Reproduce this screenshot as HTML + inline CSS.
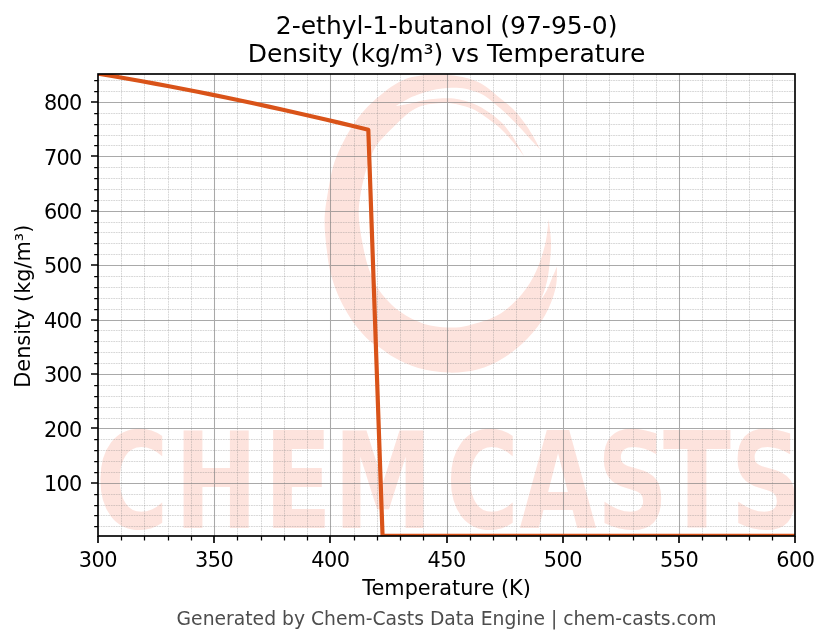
<!DOCTYPE html>
<html lang="en"><head><meta charset="utf-8"><title>2-ethyl-1-butanol (97-95-0) Density vs Temperature</title>
<style>
html,body{margin:0;padding:0;background:#fff;}
body{width:830px;height:644px;overflow:hidden;}
svg{display:block;will-change:transform;transform:translateZ(0);}
svg text{font-family:"DejaVu Sans", "Liberation Sans", sans-serif;}
</style></head><body>
<svg width="830" height="644" viewBox="0 0 830 644" font-family='"DejaVu Sans", "Liberation Sans", sans-serif'>
<rect width="830" height="644" fill="#fff"/>
<defs><clipPath id="ax"><rect x="98.0" y="74.0" width="697.0" height="462.0"/></clipPath></defs>
<g clip-path="url(#ax)" fill="#fde3dd">
<path d="M540.2 149.5C539.0 147.2 535.6 140.4 533.0 136.0C530.4 131.6 527.9 127.5 524.6 123.0C521.3 118.5 517.0 113.1 513.0 109.0C509.0 104.9 505.2 102.3 500.5 98.5C495.8 94.7 489.8 89.2 485.0 86.0C480.2 82.8 475.9 81.2 471.7 79.6C467.5 78.0 463.7 77.3 459.7 76.6C455.7 75.8 452.1 75.4 447.7 75.1C443.3 74.8 437.6 74.8 433.2 74.8C428.8 74.8 425.1 74.9 421.1 75.4C417.1 75.9 413.1 76.5 409.1 77.8C405.1 79.1 401.0 81.0 397.0 83.3C393.0 85.6 389.9 87.6 385.0 91.5C380.1 95.4 373.2 100.9 367.8 106.6C362.4 112.3 356.9 119.2 352.4 125.9C347.9 132.7 344.0 140.3 340.8 147.1C337.6 153.8 335.2 159.2 333.1 166.4C331.0 173.6 329.6 182.7 328.3 190.0C327.0 197.3 325.8 204.5 325.2 210.0C324.6 215.5 324.6 218.7 324.6 223.0C324.6 227.3 324.9 231.5 325.3 236.0C325.7 240.5 326.1 244.6 326.8 250.0C327.5 255.4 328.1 262.0 329.6 268.7C331.1 275.4 333.5 283.4 336.0 290.0C338.5 296.6 341.4 302.4 344.7 308.4C348.0 314.4 351.9 320.6 356.0 326.0C360.1 331.4 365.5 337.1 369.5 340.7C373.5 344.3 375.8 344.8 380.0 347.7C384.2 350.6 388.3 354.4 394.7 357.8C401.1 361.2 409.4 365.6 418.3 368.1C427.2 370.6 438.0 372.4 447.8 372.6C457.6 372.9 468.0 372.1 477.3 369.6C486.6 367.1 495.5 363.0 503.9 357.8C512.3 352.6 520.6 345.7 527.5 338.6C534.4 331.5 540.5 323.4 545.2 315.0C549.9 306.6 553.5 296.6 555.5 288.5C557.5 280.4 556.8 270.1 557.0 266.4C556.2 268.2 554.2 273.1 552.5 277.0C550.8 280.9 549.0 286.1 547.0 290.0C545.0 293.9 541.8 298.6 540.8 300.3C541.6 298.1 544.2 291.7 545.5 287.0C546.8 282.3 547.7 279.1 548.6 272.0C549.5 264.9 551.1 253.0 551.1 244.2C551.1 235.4 549.1 223.4 548.7 219.2C548.1 223.4 547.3 235.6 545.2 244.2C543.1 252.8 540.2 262.4 536.3 270.8C532.4 279.2 528.0 287.0 521.6 294.4C515.2 301.8 506.9 309.8 498.0 315.0C489.1 320.2 476.9 323.3 468.5 325.4C460.1 327.5 455.2 327.6 447.8 327.4C440.4 327.1 432.1 326.4 424.2 323.9C416.3 321.3 408.0 317.5 400.6 312.1C393.2 306.7 385.3 298.6 380.0 291.4C374.7 284.2 371.7 276.6 368.8 268.7C365.9 260.8 364.3 252.6 362.6 243.8C360.9 235.0 359.1 224.4 358.8 216.0C358.5 207.6 359.3 201.7 360.7 193.4C362.1 185.1 364.7 174.1 367.2 166.4C369.7 158.7 372.5 152.2 375.5 147.1C378.5 141.9 381.4 139.4 385.0 135.5C388.6 131.6 393.0 127.3 397.0 123.5C401.0 119.7 405.1 115.4 409.1 112.5C413.1 109.6 417.1 107.6 421.1 106.1C425.1 104.6 428.8 104.2 433.2 103.7C437.6 103.2 443.3 102.9 447.7 103.1C452.1 103.3 455.7 104.0 459.7 104.9C463.7 105.8 467.5 106.7 471.7 108.6C475.9 110.5 480.2 113.1 485.0 116.4C489.8 119.7 495.8 124.2 500.5 128.5C505.2 132.8 509.0 137.2 513.0 142.0C517.0 146.8 522.7 154.5 524.6 157.0C522.7 153.7 517.0 142.9 513.0 137.0C509.0 131.1 505.2 126.0 500.5 121.5C495.8 117.0 489.8 112.9 485.0 109.8C480.2 106.7 475.9 104.8 471.7 103.1C467.5 101.4 463.7 100.3 459.7 99.5C455.7 98.7 452.1 98.4 447.7 98.3C443.3 98.2 437.6 98.5 433.2 98.9C428.8 99.3 425.1 99.9 421.1 100.7C417.1 101.5 413.3 102.8 409.1 103.7C404.9 104.6 398.0 105.7 395.8 106.1C398.0 104.8 404.9 100.4 409.1 98.3C413.3 96.2 417.1 94.9 421.1 93.5C425.1 92.1 428.8 90.8 433.2 89.9C437.6 89.0 443.3 88.4 447.7 88.1C452.1 87.8 455.7 87.7 459.7 88.1C463.7 88.5 467.5 89.2 471.7 90.5C475.9 91.8 480.2 92.9 485.0 95.9C489.8 98.9 495.8 104.5 500.5 108.6C505.2 112.7 509.0 116.5 513.0 120.5C517.0 124.5 521.3 129.1 524.6 132.7C527.9 136.3 530.4 139.2 533.0 142.0C535.6 144.8 539.0 148.2 540.2 149.5Z"/>
<text transform="scale(0.7404 1)" x="129.0 235.8 356.6 450.5 602.4 701.5 806.0 895.5 986.6" y="528.0" font-size="134.4px" font-weight="bold">CHEMCASTS</text>
</g>
<path d="M121.5 74.0V536.0M144.5 74.0V536.0M168.5 74.0V536.0M191.5 74.0V536.0M237.5 74.0V536.0M261.5 74.0V536.0M284.5 74.0V536.0M307.5 74.0V536.0M354.5 74.0V536.0M377.5 74.0V536.0M400.5 74.0V536.0M423.5 74.0V536.0M470.5 74.0V536.0M493.5 74.0V536.0M516.5 74.0V536.0M540.5 74.0V536.0M586.5 74.0V536.0M609.5 74.0V536.0M633.5 74.0V536.0M656.5 74.0V536.0M702.5 74.0V536.0M726.5 74.0V536.0M749.5 74.0V536.0M772.5 74.0V536.0M98.0 526.5H795.0M98.0 515.5H795.0M98.0 505.5H795.0M98.0 494.5H795.0M98.0 472.5H795.0M98.0 461.5H795.0M98.0 450.5H795.0M98.0 439.5H795.0M98.0 418.5H795.0M98.0 407.5H795.0M98.0 396.5H795.0M98.0 385.5H795.0M98.0 363.5H795.0M98.0 352.5H795.0M98.0 341.5H795.0M98.0 330.5H795.0M98.0 309.5H795.0M98.0 298.5H795.0M98.0 287.5H795.0M98.0 276.5H795.0M98.0 254.5H795.0M98.0 243.5H795.0M98.0 232.5H795.0M98.0 222.5H795.0M98.0 200.5H795.0M98.0 189.5H795.0M98.0 178.5H795.0M98.0 167.5H795.0M98.0 145.5H795.0M98.0 135.5H795.0M98.0 124.5H795.0M98.0 113.5H795.0M98.0 91.5H795.0M98.0 80.5H795.0" fill="none" stroke="#808080" stroke-opacity="0.31" stroke-width="1.0" stroke-dasharray="1.8 0.75"/>
<path d="M214.5 74.0V536.0M330.5 74.0V536.0M447.5 74.0V536.0M563.5 74.0V536.0M679.5 74.0V536.0M98.0 483.5H795.0M98.0 428.5H795.0M98.0 374.5H795.0M98.0 320.5H795.0M98.0 265.5H795.0M98.0 211.5H795.0M98.0 156.5H795.0M98.0 102.5H795.0" fill="none" stroke="#808080" stroke-opacity="0.68" stroke-width="1.04"/>
<path d="M97.86 73.57L112.09 76.00L126.33 78.49L140.56 81.04L154.80 83.64L169.03 86.30L183.27 89.03L197.50 91.81L211.74 94.65L225.97 97.55L240.20 100.51L254.44 103.53L268.67 106.60L282.91 109.74L297.14 112.93L311.38 116.19L325.61 119.50L339.84 122.87L354.08 126.30L368.31 129.79L382.55 535.72L396.78 535.72L411.02 535.73L425.25 535.73L439.49 535.74L453.72 535.74L467.95 535.75L482.19 535.75L496.42 535.75L510.66 535.76L524.89 535.76L539.13 535.77L553.36 535.77L567.59 535.77L581.83 535.78L596.06 535.78L610.30 535.79L624.53 535.79L638.77 535.79L653.00 535.80L667.24 535.80L681.47 535.81L695.70 535.81L709.94 535.82L724.17 535.82L738.41 535.82L752.64 535.83L766.88 535.83L781.11 535.84L795.34 535.84" clip-path="url(#ax)" fill="none" stroke="#d95319" stroke-width="4.17" stroke-linejoin="round" stroke-linecap="square"/>
<path d="M121.5 536.0v4.5M144.5 536.0v4.5M168.5 536.0v4.5M191.5 536.0v4.5M237.5 536.0v4.5M261.5 536.0v4.5M284.5 536.0v4.5M307.5 536.0v4.5M354.5 536.0v4.5M377.5 536.0v4.5M400.5 536.0v4.5M423.5 536.0v4.5M470.5 536.0v4.5M493.5 536.0v4.5M516.5 536.0v4.5M540.5 536.0v4.5M586.5 536.0v4.5M609.5 536.0v4.5M633.5 536.0v4.5M656.5 536.0v4.5M702.5 536.0v4.5M726.5 536.0v4.5M749.5 536.0v4.5M772.5 536.0v4.5M98.0 526.5h-3.8M98.0 515.5h-3.8M98.0 505.5h-3.8M98.0 494.5h-3.8M98.0 472.5h-3.8M98.0 461.5h-3.8M98.0 450.5h-3.8M98.0 439.5h-3.8M98.0 418.5h-3.8M98.0 407.5h-3.8M98.0 396.5h-3.8M98.0 385.5h-3.8M98.0 363.5h-3.8M98.0 352.5h-3.8M98.0 341.5h-3.8M98.0 330.5h-3.8M98.0 309.5h-3.8M98.0 298.5h-3.8M98.0 287.5h-3.8M98.0 276.5h-3.8M98.0 254.5h-3.8M98.0 243.5h-3.8M98.0 232.5h-3.8M98.0 222.5h-3.8M98.0 200.5h-3.8M98.0 189.5h-3.8M98.0 178.5h-3.8M98.0 167.5h-3.8M98.0 145.5h-3.8M98.0 135.5h-3.8M98.0 124.5h-3.8M98.0 113.5h-3.8M98.0 91.5h-3.8M98.0 80.5h-3.8" fill="none" stroke="#000" stroke-width="1.25"/>
<path d="M98 536.0v7.0M214 536.0v7.0M330 536.0v7.0M447 536.0v7.0M563 536.0v7.0M679 536.0v7.0M795 536.0v7.0M98.0 483h-7.0M98.0 428h-7.0M98.0 374h-7.0M98.0 320h-7.0M98.0 265h-7.0M98.0 211h-7.0M98.0 156h-7.0M98.0 102h-7.0" fill="none" stroke="#000" stroke-width="1.67"/>
<rect x="98.0" y="74.0" width="697.0" height="462.0" fill="none" stroke="#000" stroke-width="1.67"/>
<g fill="#000" font-size="20.83px" text-anchor="middle" letter-spacing="-0.55">
<text x="97.86" y="567">300</text>
<text x="214.11" y="567">350</text>
<text x="330.35" y="567">400</text>
<text x="446.60" y="567">450</text>
<text x="562.85" y="567">500</text>
<text x="679.10" y="567">550</text>
<text x="795.34" y="567">600</text>
</g>
<g fill="#000" font-size="20.83px" text-anchor="end" letter-spacing="-0.65">
<text x="81.7" y="491">100</text>
<text x="81.7" y="437">200</text>
<text x="81.7" y="382">300</text>
<text x="81.7" y="328">400</text>
<text x="81.7" y="273">500</text>
<text x="81.7" y="219">600</text>
<text x="81.7" y="165">700</text>
<text x="81.7" y="110">800</text>
</g>
<text x="446.60" y="595" font-size="20.83px" text-anchor="middle">Temperature (K)</text>
<text transform="translate(30.1 306.19) rotate(-90)" font-size="20.83px" text-anchor="middle">Density (kg/m³)</text>
<text x="446.60" y="34" font-size="25.0px" text-anchor="middle">2-ethyl-1-butanol (97-95-0)</text>
<text x="446.60" y="62" font-size="25.0px" text-anchor="middle">Density (kg/m³) vs Temperature</text>
<text x="446.60" y="625" font-size="18.75px" fill="#4d4d4d" text-anchor="middle">Generated by Chem-Casts Data Engine | chem-casts.com</text>
</svg>
</body></html>
